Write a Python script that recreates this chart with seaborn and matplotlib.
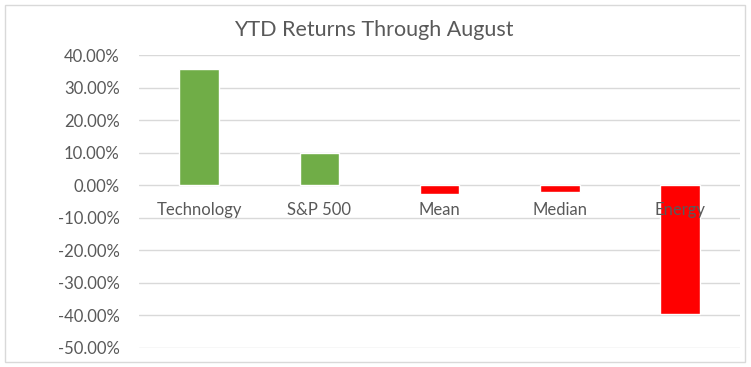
import matplotlib
matplotlib.use('Agg')
import matplotlib.pyplot as plt
import matplotlib.patches as patches
from matplotlib.transforms import offset_copy
from matplotlib.ticker import FuncFormatter
import seaborn as sns
import pandas as pd

# Data
categories = ['Technology', 'S&P 500', 'Mean', 'Median', 'Energy']
returns = [35.8, 9.8, -2.8, -2.0, -39.6]
bar_colors = ['#70AD47', '#70AD47', '#FF0000', '#FF0000', '#FF0000']
y_ticks = [-50, -40, -30, -20, -10, 0, 10, 20, 30, 40]

sns.set_style('white')
plt.rcParams['font.family'] = ['Lato', 'DejaVu Sans']

df = pd.DataFrame({'category': categories, 'ret': returns})

fig = plt.figure(figsize=(7.51, 3.67), dpi=100)
ax = fig.add_axes([0.1851, 0.0518, 0.8005, 0.7983])

sns.barplot(data=df, x='category', y='ret', hue='category', palette=bar_colors,
            legend=False, width=0.33, saturation=1, ax=ax, zorder=2)

ax.set_ylim(-50, 40)
ax.set_yticks(y_ticks)
ax.yaxis.set_major_formatter(FuncFormatter(lambda v, p: f'{v:.2f}%'))
ax.tick_params(axis='y', labelsize=12, labelcolor='#595959', length=0, pad=14)
ax.grid(axis='y', color='#d9d9d9', lw=1, zorder=0)
ax.set_axisbelow(True)
for s in ax.spines.values():
    s.set_visible(False)

# category labels sit just below the zero line, like Excel
ax.set_xticks([])
ax.set_xlabel('')
ax.set_ylabel('')
trans = offset_copy(ax.transData, fig=fig, x=0, y=-25, units='dots')
for i, c in enumerate(categories):
    ax.text(i, 0, c, transform=trans, ha='center', va='center',
            fontsize=12, color='#595959', zorder=5)

fig.text(374 / 751, 1 - 30 / 367, 'YTD Returns Through August', ha='center',
         va='center', fontsize=15.5, color='#595959')

# chart border
fig.patches.append(patches.Rectangle((5 / 751, 5 / 367), 740 / 751, 357 / 367,
                                     transform=fig.transFigure, fill=False,
                                     edgecolor='#d9d9d9', lw=1))

fig.savefig('out.png', dpi=100)
